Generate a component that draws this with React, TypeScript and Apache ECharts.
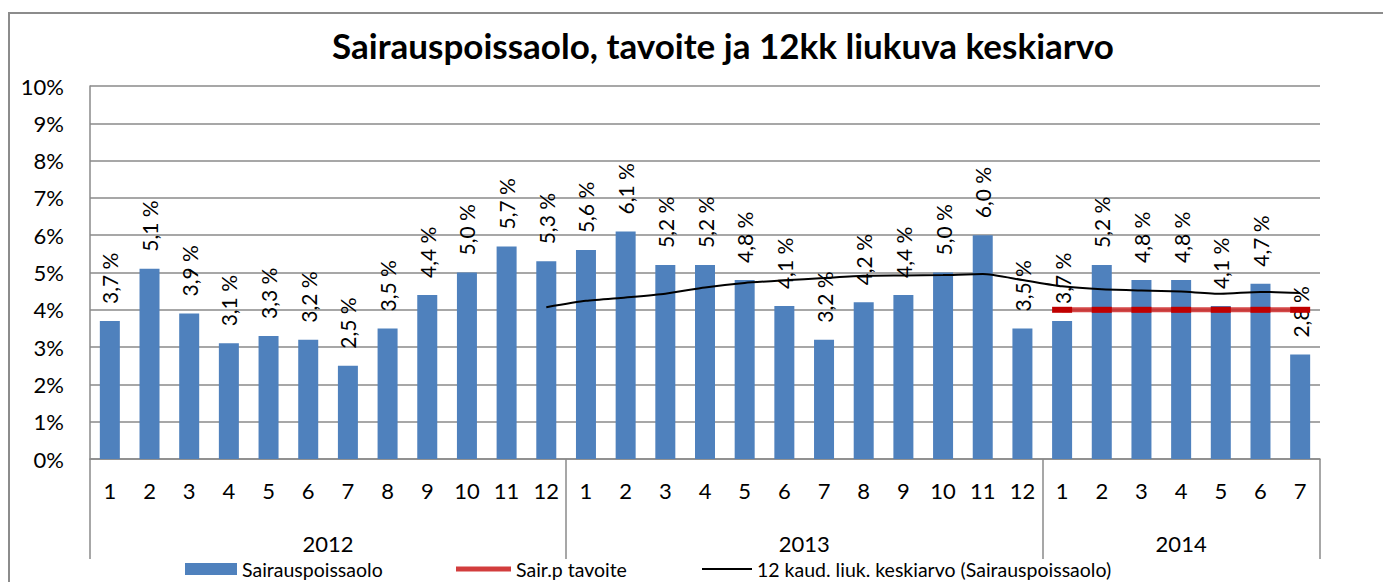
import React, { useEffect, useRef } from "react";
import * as echarts from "echarts";

const months = ["1","2","3","4","5","6","7","8","9","10","11","12","1","2","3","4","5","6","7","8","9","10","11","12","1","2","3","4","5","6","7"];
const years = ["2012", "2013", "2014"];
const monthsPerYear = [12, 12, 7];
const absence = [3.7,5.1,3.9,3.1,3.3,3.2,2.5,3.5,4.4,5.0,5.7,5.3,5.6,6.1,5.2,5.2,4.8,4.1,3.2,4.2,4.4,5.0,6.0,3.5,3.7,5.2,4.8,4.8,4.1,4.7,2.8];
const target = [null,null,null,null,null,null,null,null,null,null,null,null,null,null,null,null,null,null,null,null,null,null,null,null,4.0,4.0,4.0,4.0,4.0,4.0,4.0];
const rolling = [null,null,null,null,null,null,null,null,null,null,null,4.07,4.24,4.33,4.43,4.6,4.72,4.79,4.85,4.91,4.92,4.93,4.96,4.8,4.63,4.55,4.52,4.49,4.43,4.48,4.45];
const yTicks = [0, 1, 2, 3, 4, 5, 6, 7, 8, 9, 10];

const seriesNames = ["Sairauspoissaolo", "Sair.p tavoite", "12 kaud. liuk. keskiarvo (Sairauspoissaolo)"];
const titleText = "Sairauspoissaolo, tavoite ja 12kk liukuva keskiarvo";

const FONT = "Lato, 'Open Sans', sans-serif";
const GRAY = "#8a8a8a";

export default function App() {
  const ref = useRef<HTMLDivElement>(null);
  useEffect(() => {
    if (!ref.current) return;
    const chart = echarts.init(ref.current, null, { renderer: "svg" });
    const bounds: number[] = [0];
    monthsPerYear.forEach((n, i) => bounds.push(bounds[i] + n));
    const mids = monthsPerYear.map((n, i) => bounds[i] + n / 2);
    const total = bounds[bounds.length - 1];
    const legendText = { fontSize: 19.5, lineHeight: 22, color: "#000", fontFamily: FONT };
    const legendTop = 558;

    chart.setOption({
      animation: false,
      textStyle: { fontFamily: FONT },
      graphic: [
        {
          type: "rect",
          shape: { x: 9, y: 13, width: 1420, height: 620 },
          style: { fill: "transparent", stroke: "#8c8c8c", lineWidth: 2 },
          z: -10,
        },
        {
          type: "text",
          x: 723,
          y: 45,
          style: {
            text: titleText,
            font: `bold 35px ${FONT}`,
            fill: "#000",
            textAlign: "center",
            textVerticalAlign: "middle",
          },
        },
      ],
      grid: { left: 90, right: 63, top: 86, bottom: 123 },
      legend: [
        {
          data: [{ name: seriesNames[0], icon: "rect" }],
          left: 185,
          top: legendTop,
          itemWidth: 52,
          itemHeight: 12,
          textStyle: legendText,
          padding: 0,
        },
        {
          data: [{ name: seriesNames[1], icon: "rect", itemStyle: { color: "rgba(205,40,40,0.9)" } }],
          left: 456,
          top: legendTop,
          itemWidth: 55,
          itemHeight: 5,
          textStyle: legendText,
          padding: 0,
        },
        {
          data: [{ name: seriesNames[2], icon: "rect", itemStyle: { color: "#000" } }],
          left: 702,
          top: legendTop,
          itemWidth: 50,
          itemHeight: 2,
          textStyle: legendText,
          padding: 0,
        },
      ],
      xAxis: [
        {
          type: "category",
          data: months,
          position: "bottom",
          boundaryGap: true,
          axisLine: { show: true, lineStyle: { color: GRAY, width: 1.5 } },
          axisTick: { show: false },
          axisLabel: { color: "#000", fontSize: 22, margin: 20, interval: 0, fontFamily: FONT },
          splitLine: { show: false },
        },
        {
          type: "value",
          min: 0,
          max: total,
          position: "bottom",
          offset: 0,
          axisLine: { show: false },
          splitLine: { show: false },
          axisTick: {
            show: true,
            customValues: bounds,
            length: 100,
            lineStyle: { color: GRAY, width: 1.5 },
          },
          axisLabel: {
            show: true,
            customValues: mids,
            formatter: (v: number) => {
              const i = mids.findIndex((m) => Math.abs(m - v) < 1e-6);
              return i >= 0 ? years[i] : "";
            },
            color: "#000",
            fontSize: 22,
            margin: 73,
            fontFamily: FONT,
          },
        },
      ],
      yAxis: {
        type: "value",
        min: 0,
        max: 10,
        interval: 1,
        axisLine: { show: true, lineStyle: { color: GRAY, width: 1.5 } },
        axisTick: { show: false },
        splitLine: { show: true, lineStyle: { color: GRAY, width: 1.5 } },
        axisLabel: {
          formatter: (v: number) => (yTicks.includes(v) ? `${v}%` : ""),
          color: "#000",
          fontSize: 22,
          margin: 26,
          fontFamily: FONT,
        },
      },
      series: [
        {
          name: seriesNames[0],
          type: "bar",
          data: absence,
          xAxisIndex: 0,
          barWidth: 20,
          itemStyle: { color: "#4F81BD" },
          label: {
            show: true,
            position: "top",
            rotate: 90,
            align: "left",
            verticalAlign: "middle",
            distance: 17,
            fontSize: 21,
            color: "#000",
            fontFamily: FONT,
            formatter: (p: any) => `${Number(p.value).toFixed(1).replace(".", ",")} %`,
          },
          z: 2,
        },
        {
          name: seriesNames[1],
          type: "line",
          data: target,
          xAxisIndex: 0,
          symbol: "rect",
          symbolSize: [20, 6],
          showSymbol: true,
          itemStyle: { color: "#C00000" },
          lineStyle: { color: "rgba(205,40,40,0.85)", width: 5 },
          z: 3,
        },
        {
          name: seriesNames[2],
          type: "line",
          data: rolling,
          xAxisIndex: 0,
          symbol: "none",
          smooth: 0.2,
          itemStyle: { color: "#000" },
          lineStyle: { color: "#000", width: 2 },
          z: 4,
        },
      ],
    });
    return () => chart.dispose();
  }, []);
  return (
    <div
      ref={ref}
      style={{ position: "fixed", left: 0, top: 0, width: 1383, height: 582, background: "#fff" }}
    />
  );
}
